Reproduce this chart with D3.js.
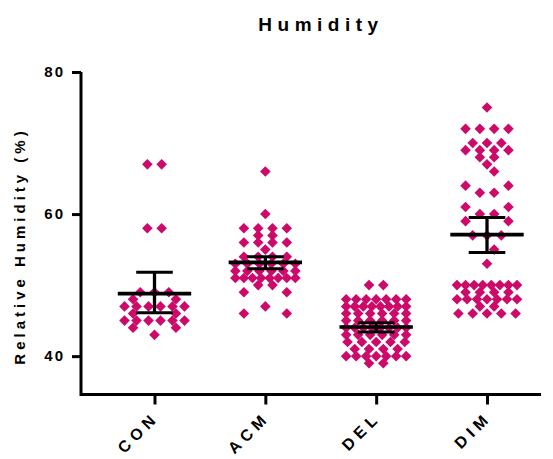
<!DOCTYPE html>
<html>
<head>
<meta charset="utf-8">
<script src="https://cdn.jsdelivr.net/npm/d3@7"></script>
<style>
  html, body { margin: 0; padding: 0; background: #ffffff; }
  svg { display: block; }
  text { font-family: "Liberation Sans", Arial, sans-serif; font-weight: bold; fill: #000; }
</style>
</head>
<body>
<script>
// ---------- data ----------
const categories = ["CON", "ACM", "DEL", "DIM"];
const conValues = [67, 67, 58, 58, 49, 49, 49, 48, 48, 47, 47, 47, 47, 47, 47, 46, 46,
  45, 45, 45, 45, 45, 45, 44, 44, 43];
const acmValues = [66, 60, 58, 58, 58, 58, 57, 57, 56, 56, 56, 56, 55, 54, 54, 54, 54,
  53, 53, 53, 53, 53, 53, 52, 52, 52, 52, 52, 52, 51, 51, 51, 51, 51, 51, 51, 51,
  50, 50, 49, 49, 47, 46, 46];
const delValues = [50, 50, 48, 48, 48, 48, 48, 48, 48, 47, 47, 47, 47, 47, 47, 47, 47,
  46, 46, 46, 46, 46, 46, 45, 45, 45, 45, 45, 45, 44, 44, 44, 44, 44, 44, 44, 44,
  43, 43, 43, 43, 43, 43, 42, 42, 42, 42, 42, 41, 41, 41, 41,
  40, 40, 40, 40, 40, 40, 40, 39, 39];
const dimValues = [75, 72, 72, 72, 72, 70, 70, 70, 69, 69, 69, 69, 68, 68, 67, 66, 64, 64,
  63, 63, 61, 61, 60, 60, 59, 59, 57, 57, 57, 55, 53,
  50, 50, 50, 50, 50, 50, 50, 50, 49, 49, 49, 49, 48, 48, 48, 48, 48, 48, 48, 47, 47,
  46, 46, 46, 46, 46];
const groupValues = [conValues, acmValues, delValues, dimValues];
// mean and error-bar ends as drawn in the reference
const means = [48.8, 53.2, 44.1, 57.1];
const errLow = [46.1, 52.3, 43.4, 54.6];
const errHigh = [51.8, 54.0, 44.7, 59.5];
const yTicks = [40, 60, 80];
const title = "Humidity";
const yLabel = "Relative Humidity (%)";

// ---------- layout ----------
const W = 553, H = 459;
const pink = "#CD0A69";
const svg = d3.select("body").append("svg").attr("width", W).attr("height", H);

const y = d3.scaleLinear().domain([34.6, 80]).range([394.5, 72]);
const x = d3.scalePoint().domain(categories).range([154.5, 487]);
const axisLeftX = 81, axisRightX = 541, axisY = y.range()[0];

// title
svg.append("text").attr("x", 321).attr("y", 31).attr("text-anchor", "middle")
  .style("font-size", "19px").style("letter-spacing", "5.5px").text(title);

// y label
svg.append("text")
  .attr("transform", `translate(25,${246}) rotate(-90)`)
  .attr("text-anchor", "middle")
  .style("font-size", "15px").style("letter-spacing", "4px")
  .text(yLabel);

// ---------- points (row beeswarm) ----------
const R = 5.3;          // half-diagonal of diamond
const STEP = 14.3, MAXW = 60, D = 14.3;
const diamond = `M0,${-R}L${R},0L0,${R}L${-R},0Z`;

groupValues.forEach((vals, gi) => {
  const cx = x(categories[gi]);
  const rows = d3.groups(vals, v => v).sort((a, b) => b[0] - a[0]);
  const placed = [];
  rows.forEach(([v, arr]) => {
    const k = arr.length;
    const s = k > 1 ? Math.min(STEP, MAXW / (k - 1)) : 0;
    const base = d3.range(k).map(i => (i - (k - 1) / 2) * s);
    let options = [base];
    if (k === 1) options = [[0], [STEP / 2], [-STEP / 2]];
    if (k === 2) options = [base, [-1.5 * STEP, 1.5 * STEP]];
    if (k === 3) options = [base, base.map(o => o + STEP / 2), base.map(o => o - STEP / 2)];
    const py = y(v);
    let best = options[0], bestScore = Infinity;
    options.forEach(opt => {
      let sc = 0;
      opt.forEach(o => placed.forEach(p => {
        const d = Math.abs(o - p.o) + Math.abs(py - p.y);
        if (d < D) sc += D - d;
      }));
      if (sc < bestScore - 1e-6) { bestScore = sc; best = opt; }
    });
    best.forEach(o => placed.push({ o, y: py, v }));
  });
  svg.append("g").selectAll("path").data(placed).join("path")
    .attr("d", diamond)
    .attr("transform", d => `translate(${cx + d.o},${d.y})`)
    .attr("fill", pink);
});

// ---------- error bars ----------
const eb = svg.append("g").attr("stroke", "#000");
categories.forEach((c, i) => {
  const cx = x(c);
  eb.append("line").attr("x1", cx).attr("x2", cx).attr("y1", y(errHigh[i])).attr("y2", y(errLow[i]))
    .attr("stroke-width", 3.3);
  eb.append("line").attr("x1", cx - 18.3).attr("x2", cx + 18.3).attr("y1", y(errHigh[i])).attr("y2", y(errHigh[i]))
    .attr("stroke-width", 3);
  eb.append("line").attr("x1", cx - 18.3).attr("x2", cx + 18.3).attr("y1", y(errLow[i])).attr("y2", y(errLow[i]))
    .attr("stroke-width", 3);
  eb.append("line").attr("x1", cx - 36.7).attr("x2", cx + 36.7).attr("y1", y(means[i])).attr("y2", y(means[i]))
    .attr("stroke-width", 3.7);
});

// ---------- axes ----------
const yAxis = svg.append("g").attr("transform", `translate(${axisLeftX},0)`)
  .call(d3.axisLeft(y).tickValues(yTicks).tickSize(9).tickSizeOuter(0).tickPadding(7));
yAxis.select(".domain").remove();
yAxis.selectAll(".tick line").attr("stroke", "#000").attr("stroke-width", 3);
yAxis.selectAll(".tick text").style("font-size", "15px").style("letter-spacing", "2px")
  .style("font-family", "'Liberation Sans', Arial, sans-serif").style("font-weight", "bold");

const xAxis = svg.append("g").attr("transform", `translate(0,${axisY})`)
  .call(d3.axisBottom(x).tickSize(10).tickSizeOuter(0).tickPadding(12));
xAxis.select(".domain").remove();
xAxis.selectAll(".tick line").attr("stroke", "#000").attr("stroke-width", 3);
xAxis.selectAll(".tick text")
  .attr("text-anchor", "end").attr("dy", "0.35em")
  .attr("transform", "translate(1,20) rotate(-45)")
  .attr("y", 0).attr("x", 0)
  .style("font-size", "16px").style("letter-spacing", "5px")
  .style("font-family", "'Liberation Sans', Arial, sans-serif").style("font-weight", "bold");

// axis lines
svg.append("path")
  .attr("d", `M${axisLeftX},${y.range()[1]}L${axisLeftX},${axisY}L${axisRightX},${axisY}`)
  .attr("fill", "none").attr("stroke", "#000").attr("stroke-width", 3).attr("stroke-linejoin", "miter");
</script>
</body>
</html>
